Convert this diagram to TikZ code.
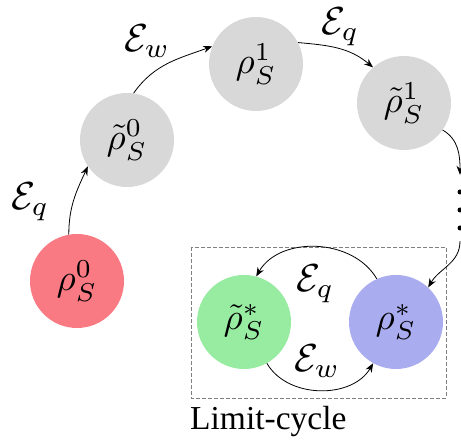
\documentclass[tikz,border=0pt]{standalone}
\usepackage{graphicx}
\usepackage{fontspec}
\newfontfamily\capfont{Liberation Serif}
\usetikzlibrary{arrows.meta}
\definecolor{cred}{RGB}{250,122,132}
\definecolor{cgray}{RGB}{216,216,216}
\definecolor{cgreen}{RGB}{152,236,162}
\definecolor{cblue}{RGB}{170,172,240}
\newcommand{\scmath}[1]{\scalebox{3.7}{$#1$}}
\newcommand{\sclab}[1]{\scalebox{3.9}{$#1$}}
\begin{document}
\begin{tikzpicture}[x=1pt,y=1pt,
  state/.style={circle, minimum size=94pt, inner sep=0pt},
  conn/.style={-{Stealth[length=9pt,width=7pt]}, line width=0.8pt},
  lbl/.style={anchor=base west, inner sep=0pt},
  dotmark/.style={circle, fill=black, inner sep=0pt, minimum size=5pt}]
\useasboundingbox (0,0) rectangle (461,441);
% limit-cycle box
\draw[gray, dashed, dash pattern=on 4pt off 2pt, line width=0.8pt] (191,194) rectangle (446,43);
\node[anchor=base west, inner sep=0pt, font=\capfont\fontsize{33.5}{38}\selectfont] (lc) at (190,11) {Limit-cycle};
% states
\node[state, fill=cred]   (r0) at (77,160)  {\scmath{\rho_S^0}};
\node[state, fill=cgray]  (t0) at (127,301) {\scmath{\tilde\rho_S^0}};
\node[state, fill=cgray]  (r1) at (256,377) {\scmath{\rho_S^1}};
\node[state, fill=cgray]  (t1) at (404,338) {\scmath{\tilde\rho_S^1}};
\node[state, fill=cgreen] (gs) at (244,119) {\scmath{\tilde\rho_S^*}};
\node[state, fill=cblue]  (bs) at (396,119) {\scmath{\rho_S^*}};
% dots
\node[inner sep=0pt, minimum width=6pt, minimum height=66pt] (dots) at (460,233) {};
\node[dotmark] (d1) at (460,249) {};
\node[dotmark] (d2) at (460,231) {};
\node[dotmark] (d3) at (460,213) {};
% connectors
\draw[conn] (r0.100) to[out=90, in=245] (t0.214);
\draw[conn] (t0.82) to[out=55, in=200] (r1.158);
\draw[conn] (r1.27) to[out=-5, in=140] (t1.131);
\draw[conn] (t1.-35) to[out=-30, in=90] (dots.north);
\draw[conn] (dots.south) to[out=-90, in=60] (bs.47);
\draw[conn] (bs.114) to[out=120, in=60] (gs.75);
\draw[conn] (gs.-61) to[out=-60, in=240] (bs.-119);
% labels
\node[lbl] (l1) at (11,231) {\sclab{\mathcal{E}_q}};
\node[lbl] (l2) at (124,389) {\sclab{\mathcal{E}_w}};
\node[lbl] (l3) at (321,406) {\sclab{\mathcal{E}_q}};
\node[lbl] (l4) at (296,149) {\sclab{\mathcal{E}_q}};
\node[lbl] (l5) at (294,69) {\sclab{\mathcal{E}_w}};
\end{tikzpicture}
\end{document}
